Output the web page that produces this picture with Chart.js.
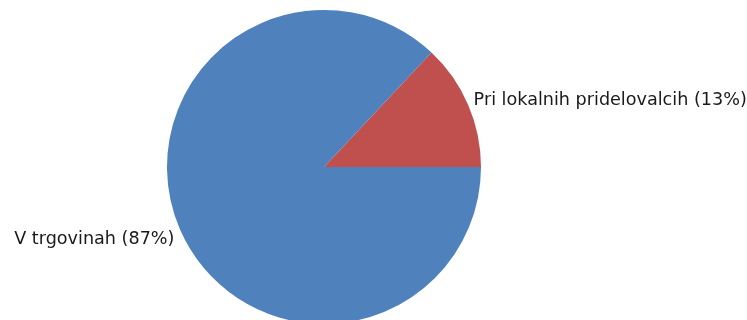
<!DOCTYPE html>
<html>
<head>
<meta charset="utf-8">
<script src="https://cdn.jsdelivr.net/npm/chart.js"></script>
<style>
  html, body { margin: 0; padding: 0; background: #fff; overflow: hidden; }
  #wrap { width: 747px; height: 320px; overflow: hidden; }
</style>
</head>
<body>
<div id="wrap"><canvas id="chart" width="747" height="340"></canvas></div>
<script>
// Pie data
const labels = ['Pri lokalnih pridelovalcih', 'V trgovinah'];
const values = [13, 87];
const colors = ['#C0504D', '#4F81BD'];

// Outside labels: "name (pct%)" placed along each slice's middle angle
const outsideLabels = {
  id: 'outsideLabels',
  afterDatasetsDraw(chart) {
    const ctx = chart.ctx;
    const meta = chart.getDatasetMeta(0);
    const total = values.reduce((a, b) => a + b, 0);
    ctx.save();
    ctx.font = '17.6px "DejaVu Sans", Verdana, sans-serif';
    ctx.fillStyle = '#1a1a1a';
    ctx.textBaseline = 'alphabetic';
    meta.data.forEach((arc, i) => {
      const mid = (arc.startAngle + arc.endAngle) / 2;
      const r = arc.outerRadius + 6;
      const x = arc.x + Math.cos(mid) * r;
      let y = arc.y + Math.sin(mid) * r;
      // labels below the centre hang down from the anchor, others sit on it
      y += Math.sin(mid) > 0 ? 12 : 3;
      const pct = Math.round(values[i] / total * 100);
      ctx.textAlign = Math.cos(mid) >= 0 ? 'left' : 'right';
      ctx.fillText(labels[i] + ' (' + pct + '%)', x, y);
    });
    ctx.restore();
  }
};

new Chart(document.getElementById('chart').getContext('2d'), {
  type: 'pie',
  data: {
    labels: labels,
    datasets: [{
      data: values,
      backgroundColor: colors,
      borderWidth: 0
    }]
  },
  options: {
    responsive: false,
    animation: false,
    rotation: 90 - values[0] / 100 * 360,
    layout: {
      padding: { left: 167, right: 266, top: 10, bottom: 16 }
    },
    plugins: {
      legend: { display: false },
      tooltip: { enabled: false }
    }
  },
  plugins: [outsideLabels]
});
</script>
</body>
</html>
